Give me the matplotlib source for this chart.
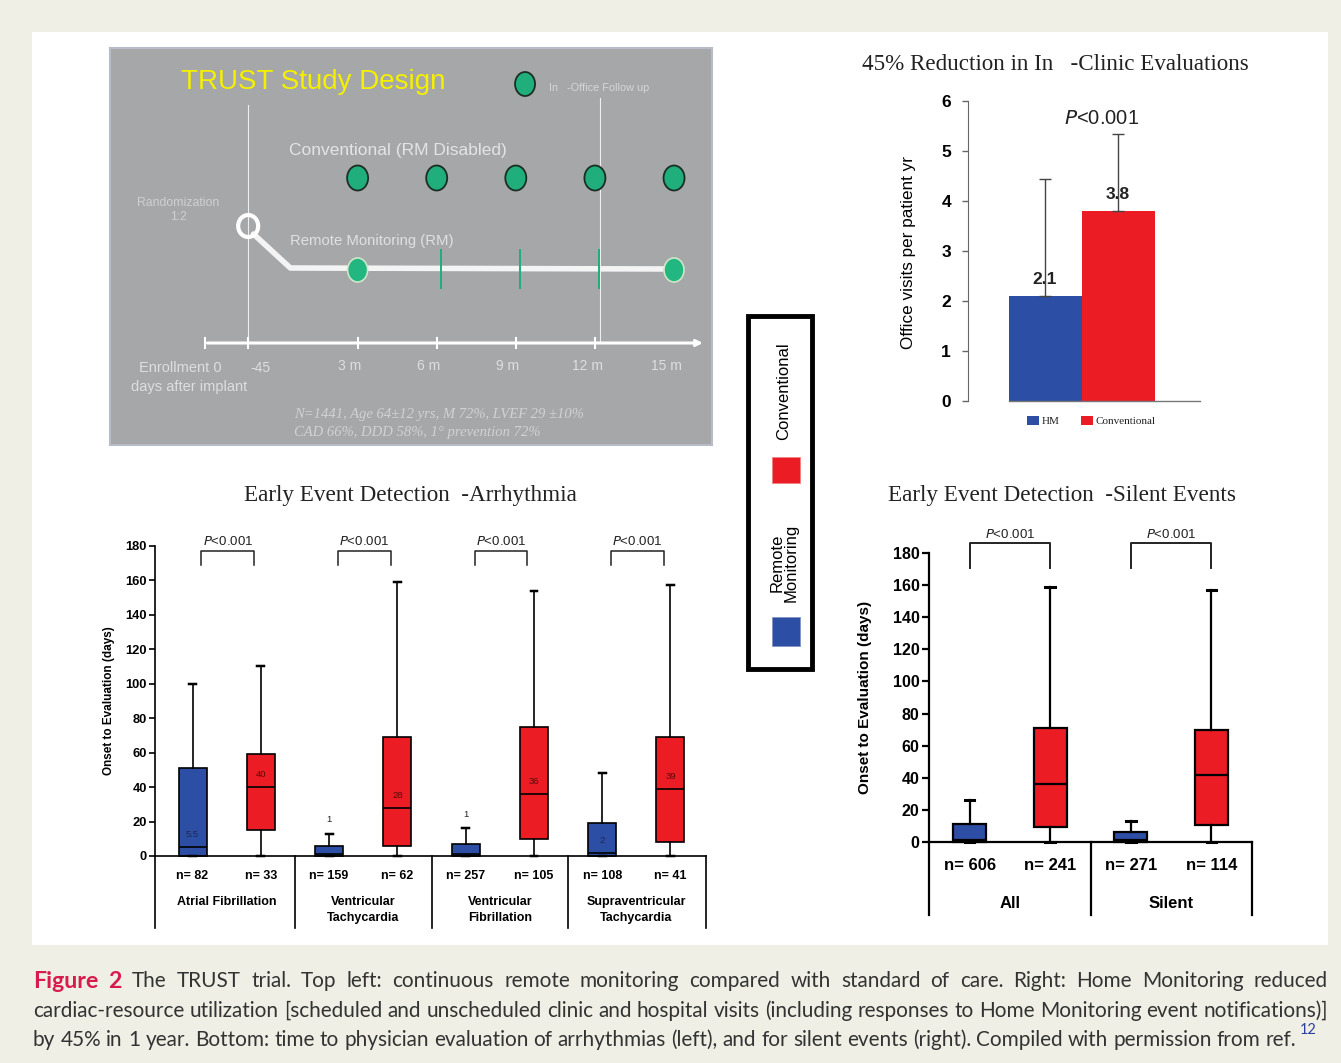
import matplotlib
matplotlib.use("Agg")
import matplotlib.pyplot as plt
import matplotlib.transforms as mtransforms
from matplotlib.patches import Rectangle, Ellipse

W, H = 1341, 1063
SANS = "Liberation Sans"
SERIF = "Liberation Serif"
BLUE = "#2c4ea5"
RED = "#ec1c24"

# ---------------- data ----------------
# study design schematic (months after implant)
visit_months = [3, 6, 9, 12, 15]
rm_office_months = [3, 15]
rm_remote_months = [6, 9, 12]
timeline_labels = ["Enrollment 0", "-45", "3 m", "6 m", "9 m", "12 m", "15 m"]
timeline_months = [-2.8, -1.15, 3, 6, 9, 12, 15]

# office visits per patient year
visit_groups = ["HM", "Conventional"]
visit_means = [2.1, 3.8]
visit_upper = [4.45, 5.35]

# arrhythmia onset-to-evaluation (days)
arr_groups = ["Atrial Fibrillation", "Ventricular\nTachycardia",
              "Ventricular\nFibrillation", "Supraventricular\nTachycardia"]
arr_rm_n = [82, 159, 257, 108]
arr_conv_n = [33, 62, 105, 41]
arr_rm_q1 = [0, 0, 0, 0]
arr_rm_med = [5.5, 1, 1, 2]
arr_rm_q3 = [51, 6, 7, 19]
arr_rm_hi = [100, 13, 16, 48]
arr_conv_q1 = [15, 6, 10, 8]
arr_conv_med = [40, 28, 36, 39]
arr_conv_q3 = [59, 69, 75, 69]
arr_conv_hi = [110, 159, 154, 157]

# silent events onset-to-evaluation (days)
sil_groups = ["All", "Silent"]
sil_rm_n = [606, 271]
sil_conv_n = [241, 114]
sil_rm_q1 = [0, 0]
sil_rm_med = [1, 1]
sil_rm_q3 = [11, 6]
sil_rm_hi = [26, 13]
sil_conv_q1 = [9, 10.5]
sil_conv_med = [36, 41.5]
sil_conv_q3 = [71, 70]
sil_conv_hi = [159, 157]

caption_lines = [
    "The TRUST trial. Top left: continuous remote monitoring compared with standard of care. Right: Home Monitoring reduced",
    "cardiac-resource utilization [scheduled and unscheduled clinic and hospital visits (including responses to Home Monitoring event notifications)]",
    "by 45% in 1 year. Bottom: time to physician evaluation of arrhythmias (left), and for silent events (right). Compiled with permission from ref.",
]


def px_axes(x0, y0, x1, y1, **kw):
    return fig.add_axes([x0 / W, 1 - y1 / H, (x1 - x0) / W, (y1 - y0) / H], **kw)


def fy(ypx):
    return 1 - ypx / H


def stats(q1, med, q3, hi):
    return [dict(med=m, q1=a, q3=b, whislo=0, whishi=h, fliers=[])
            for a, m, b, h in zip(q1, med, q3, hi)]


fig = plt.figure(figsize=(W / 100, H / 100), dpi=100)
fig.patch.set_facecolor("#efefe5")
fig.add_artist(Rectangle((32 / W, fy(945)), (1328 - 32) / W, (945 - 32) / H,
                         transform=fig.transFigure, facecolor="white",
                         edgecolor="none", zorder=0))

# ---------------- panel 1: study design ----------------
ax1 = px_axes(110, 48, 712, 445)
ax1.set_facecolor("#a5a7a9")
ax1.set_xlim(-6.39, 16.44)
ax1.set_ylim(445, 48)
ax1.set_xticks([])
ax1.set_yticks([])
for s in ax1.spines.values():
    s.set_color("#b8bcc6")
    s.set_linewidth(1.5)

mx = 26.37  # px per month, for ellipse sizes
ax1.text(-3.7, 82, "TRUST Study Design", color="#f4f000", fontsize=20,
         family=SANS, va="center")
ax1.add_patch(Ellipse((9.35, 84), 20 / mx, 24, facecolor="#1fae7c",
                      edgecolor="#1b2e24", lw=1.3))
ax1.text(10.25, 88, "In   -Office Follow up", color="#d6d6d6", fontsize=7.8,
         family=SANS, va="center")

rand_m = timeline_months[1]
ax1.plot([rand_m, rand_m], [105, 343], color="#eeeeee", lw=0.8)
ax1.plot([12.2, 12.2], [98, 343], color="#eeeeee", lw=0.8)

ax1.text(0.4, 150, "Conventional (RM Disabled)", color="#e4e4e4",
         fontsize=12.5, family=SANS, va="center")
for m in visit_months:
    ax1.add_patch(Ellipse((m, 178), 21 / mx, 25, facecolor="#1fae7c",
                          edgecolor="#1b2e24", lw=1.3, zorder=3))

ax1.text(-3.8, 210, "Randomization\n1:2", color="#d0d0d0", fontsize=8.8,
         family=SANS, va="center", ha="center", linespacing=1.2)
ax1.add_patch(Ellipse((rand_m, 226), 20 / mx, 22, facecolor="none",
                      edgecolor="white", lw=3, zorder=4))
ax1.plot([rand_m + 0.2, 0.45, visit_months[-1]], [234, 268, 269],
         color="#f4f4f4", lw=4, solid_capstyle="round", zorder=2)
ax1.text(0.45, 241, "Remote Monitoring (RM)", color="#e0e0e0", fontsize=10.7,
         family=SANS, va="center")
for m in rm_office_months:
    ax1.add_patch(Ellipse((m, 270), 20 / mx, 24, facecolor="#22b681",
                          edgecolor="#cfe6c8", lw=1.2, zorder=3))
for m in rm_remote_months:
    ax1.plot([m + 0.15, m + 0.15], [250, 288], color="#1fae7c", lw=1.4, zorder=3)

# timeline axis
ax1.annotate("", xy=(16.2, 343), xytext=(timeline_months[0], 343),
             arrowprops=dict(arrowstyle="-|>", color="white", lw=2.2,
                             mutation_scale=9))
for m in timeline_months[:-1]:
    ax1.plot([m, m], [338, 348], color="white", lw=1.5)
for lab, m in zip(timeline_labels, timeline_months):
    if lab.startswith("Enrollment"):
        ax1.text(m + 0.65, 368, lab, color="#dedede", fontsize=10.5,
                 family=SANS, ha="right", va="center")
    elif lab == "-45":
        ax1.text(m + 0.45, 368, lab, color="#dedede", fontsize=10,
                 family=SANS, ha="center", va="center")
    else:
        ax1.text(m - 0.3, 366, lab, color="#dedede", fontsize=10,
                 family=SANS, ha="center", va="center")
ax1.text(-5.6, 387, "days after implant", color="#dedede", fontsize=10.5,
         family=SANS, ha="left", va="center")
ax1.text(0.6, 414, "N=1441, Age 64\u00b112 yrs, M 72%, LVEF 29 \u00b110%",
         color="#d2d2d2", fontsize=10.5, family=SERIF, style="italic", va="center")
ax1.text(0.6, 432, "CAD 66%, DDD 58%, 1\u00b0 prevention 72%",
         color="#d2d2d2", fontsize=10.5, family=SERIF, style="italic", va="center")

# ---------------- panel 2: office visits ----------------
ax2 = px_axes(967.7, 101, 1210, 401)
ax2.set_facecolor("none")
ax2.set_xlim(-1.06, 2.26)
ax2.set_ylim(0, 6)
xpos = list(range(len(visit_groups)))
ax2.bar(xpos, visit_means, width=1.0, color=[BLUE, RED], zorder=2)
ax2.errorbar(xpos, visit_means,
             yerr=[[0] * len(visit_means),
                   [u - v for u, v in zip(visit_upper, visit_means)]],
             fmt="none", ecolor="#444444", elinewidth=1, capsize=4, zorder=3)
ax2.plot([-0.5, 2.12], [0, 0], color="#777777", lw=1, clip_on=False)
for x, v in zip(xpos, visit_means):
    ax2.text(x, v + 0.33, f"{v:.1f}", ha="center", va="center", fontsize=12.5,
             fontweight="bold", family=SANS, color="#222222", zorder=1)
ax2.text(0.78, 5.65, "$\\it{P}$<0.001", ha="center", va="center", fontsize=14.5,
         family=SANS, color="#222222")
for s in ["top", "right", "bottom"]:
    ax2.spines[s].set_visible(False)
ax2.spines["left"].set_color("#666666")
ax2.set_xticks([])
ax2.set_yticks(range(0, 7))
ax2.tick_params(axis="y", length=4, width=1, color="#666666", labelsize=12.5, pad=8)
for lbl in ax2.get_yticklabels():
    lbl.set_fontweight("bold")
    lbl.set_family(SANS)
ax2.set_ylabel("Office visits per patient yr", fontsize=12.3, family=SANS)
ax2.yaxis.set_label_coords(-0.213, 0.495)
fig.text(1055 / W, fy(65), "45% Reduction in In   -Clinic Evaluations",
         ha="center", va="center", fontsize=16.6, family=SERIF, color="#222222")
# legend
for (x0, col, lab) in [(1027, BLUE, visit_groups[0]), (1081, RED, visit_groups[1])]:
    fig.add_artist(Rectangle((x0 / W, fy(425)), 12 / W, 9 / H,
                             transform=fig.transFigure, facecolor=col,
                             edgecolor="none"))
    fig.text((x0 + 15) / W, fy(421), lab, fontsize=8, family=SERIF,
             va="center", color="#222222")

# ---------------- shared legend box ----------------
fig.add_artist(Rectangle((748 / W, fy(669)), 64 / W, 353 / H,
                         transform=fig.transFigure, facecolor="white",
                         edgecolor="black", lw=3.5))
fig.add_artist(Rectangle((772 / W, fy(483)), 28 / W, 26 / H,
                         transform=fig.transFigure, facecolor=RED,
                         edgecolor="#f08080", lw=0.5))
fig.add_artist(Rectangle((772 / W, fy(646)), 28 / W, 29 / H,
                         transform=fig.transFigure, facecolor=BLUE,
                         edgecolor="#8090c0", lw=0.5))
fig.text(784 / W, fy(391), "Conventional", rotation=90, ha="center",
         va="center", fontsize=12, family=SANS)
fig.text(784 / W, fy(563), "Remote\nMonitoring", rotation=90, ha="center",
         va="center", fontsize=12, family=SANS, linespacing=0.9)


def box_panel(ax, rm_stats, conv_stats, lw, capw):
    n = len(rm_stats)
    rm_pos = [2 * i + 1 for i in range(n)]
    conv_pos = [2 * i + 2 for i in range(n)]
    for st, pos, col in [(rm_stats, rm_pos, BLUE), (conv_stats, conv_pos, RED)]:
        b = ax.bxp(st, positions=pos, widths=0.41, patch_artist=True,
                   showfliers=False, capwidths=capw,
                   boxprops=dict(facecolor=col, edgecolor="black", linewidth=lw),
                   medianprops=dict(color="black", linewidth=lw),
                   whiskerprops=dict(color="black", linewidth=lw),
                   capprops=dict(color="black", linewidth=lw + 0.6),
                   manage_ticks=False)
        for w in b["whiskers"] + b["caps"] + b["boxes"] + b["medians"]:
            w.set_clip_on(False)
    ax.set_ylim(0, 180)
    ax.set_yticks(range(0, 181, 20))
    ax.set_xticks([])
    for s in ["top", "right"]:
        ax.spines[s].set_visible(False)
    for s in ["left", "bottom"]:
        ax.spines[s].set_linewidth(lw)
    ax.set_facecolor("none")
    return rm_pos, conv_pos


# ---------------- panel 3: arrhythmia ----------------
ax3 = px_axes(155, 545.7, 706, 856)
ax3.set_xlim(0.45, 8.52)
rm_pos, conv_pos = box_panel(ax3, stats(arr_rm_q1, arr_rm_med, arr_rm_q3, arr_rm_hi),
                             stats(arr_conv_q1, arr_conv_med, arr_conv_q3, arr_conv_hi),
                             1.2, 0.1)
ax3.tick_params(axis="y", length=4, width=1.2, labelsize=9.3, pad=2)
for lbl in ax3.get_yticklabels():
    lbl.set_fontweight("bold")
    lbl.set_family(SANS)
ax3.set_ylabel("Onset to Evaluation (days)", fontsize=8.5, fontweight="bold",
               family=SANS)
ax3.yaxis.set_label_coords(-0.073, 0.5)

for i in range(len(arr_groups)):
    # median labels
    m, q3, hi = arr_rm_med[i], arr_rm_q3[i], arr_rm_hi[i]
    y = m + 7 if m + 12 < q3 else hi + 8
    ax3.text(rm_pos[i], y, f"{m:g}", ha="center", va="center", fontsize=6.8,
             family=SANS, color="#1a2a50" if m + 12 < q3 else "#222222")
    ax3.text(conv_pos[i], arr_conv_med[i] + 7, f"{arr_conv_med[i]:g}",
             ha="center", va="center", fontsize=6.8, family=SANS, color="#5a0a0a")
    # p-value brackets
    xa, xb = rm_pos[i] + 0.13, conv_pos[i] - 0.1
    ax3.plot([xa, xa, xb, xb], [169, 177, 177, 169], color="#222222", lw=1.1,
             clip_on=False)
    ax3.text((xa + xb) / 2, 182.5, "$\\it{P}$<0.001", ha="center", va="center",
             fontsize=9.5, family=SANS, color="#222222")

blend3 = mtransforms.blended_transform_factory(ax3.transData, fig.transFigure)
for x in [0.45, 2.5, 4.5, 6.5, 8.52]:
    ax3.plot([x, x], [fy(856), fy(928)], color="black", lw=1.2,
             transform=blend3, clip_on=False)
for i, g in enumerate(arr_groups):
    ax3.text(rm_pos[i], fy(876), f"n= {arr_rm_n[i]}", transform=blend3,
             ha="center", va="center", fontsize=9, fontweight="bold", family=SANS)
    ax3.text(conv_pos[i], fy(876), f"n= {arr_conv_n[i]}", transform=blend3,
             ha="center", va="center", fontsize=9, fontweight="bold", family=SANS)
    ax3.text(rm_pos[i] + 0.5, fy(896), g, transform=blend3, ha="center",
             va="top", fontsize=9, fontweight="bold", family=SANS, linespacing=1.4)
fig.text(410 / W, fy(495), "Early Event Detection  -Arrhythmia", ha="center",
         va="center", fontsize=16.7, family=SERIF, color="#222222")

# ---------------- panel 4: silent events ----------------
ax4 = px_axes(929.3, 553.3, 1251.7, 841.7)
ax4.set_xlim(0.5, 4.5)
rm_pos, conv_pos = box_panel(ax4, stats(sil_rm_q1, sil_rm_med, sil_rm_q3, sil_rm_hi),
                             stats(sil_conv_q1, sil_conv_med, sil_conv_q3, sil_conv_hi),
                             1.6, 0.12)
ax4.tick_params(axis="y", length=5, width=1.6, labelsize=11.5, pad=2)
for lbl in ax4.get_yticklabels():
    lbl.set_fontweight("bold")
    lbl.set_family(SANS)
ax4.set_ylabel("Onset to Evaluation (days)", fontsize=11, fontweight="bold",
               family=SANS)
ax4.yaxis.set_label_coords(-0.178, 0.5)
for i in range(len(sil_groups)):
    xa, xb = rm_pos[i], conv_pos[i]
    ax4.plot([xa, xa, xb, xb], [171, 186.5, 186.5, 171], color="#222222",
             lw=1.4, clip_on=False)
    ax4.text((xa + xb) / 2, 192, "$\\it{P}$<0.001", ha="center", va="center",
             fontsize=9.5, family=SANS, color="#222222")

blend4 = mtransforms.blended_transform_factory(ax4.transData, fig.transFigure)
for x in [0.5, 2.5, 4.5]:
    ax4.plot([x, x], [fy(841.7), fy(915)], color="black", lw=1.6,
             transform=blend4, clip_on=False)
for i, g in enumerate(sil_groups):
    ax4.text(rm_pos[i], fy(866), f"n= {sil_rm_n[i]}", transform=blend4,
             ha="center", va="center", fontsize=12, fontweight="bold", family=SANS)
    ax4.text(conv_pos[i], fy(866), f"n= {sil_conv_n[i]}", transform=blend4,
             ha="center", va="center", fontsize=12, fontweight="bold", family=SANS)
    ax4.text(rm_pos[i] + 0.5, fy(903), g, transform=blend4, ha="center",
             va="center", fontsize=12, fontweight="bold", family=SANS)
fig.text(1062 / W, fy(495), "Early Event Detection  -Silent Events", ha="center",
         va="center", fontsize=16.7, family=SERIF, color="#222222")

# ---------------- caption ----------------
renderer = fig.canvas.get_renderer()
CAP_FONT = "Lato"
probe = fig.text(0, 0, caption_lines[1], fontsize=12, family=CAP_FONT)
cap_size = 12 * 1292 / probe.get_window_extent(renderer).width
probe.remove()


def place_line(words, ypx, x0, x1, justify):
    texts = []
    for w, kw in words:
        texts.append(fig.text(0, fy(ypx), w, va="center", ha="left", **kw))
    widths = [t.get_window_extent(renderer).width for t in texts]
    if justify:
        gap = (x1 - x0 - sum(widths)) / (len(texts) - 1)
    else:
        gap = cap_size * 100 / 72 * 0.25
    x = x0
    for t, w in zip(texts, widths):
        t.set_x(x / W)
        x += w + gap
    return x - gap


body = dict(fontsize=cap_size, family=CAP_FONT, color="#333333")
head = dict(fontsize=cap_size * 1.12, family=CAP_FONT, color="#d81b4f",
            fontweight="bold")
line1 = [("Figure", head), ("2", head)] + [(w, body) for w in caption_lines[0].split()]
place_line(line1, 981, 33, 1328, True)
place_line([(w, body) for w in caption_lines[1].split()], 1011, 33, 1328, True)
xend = place_line([(w, body) for w in caption_lines[2].split()], 1040, 33, 1328, False)
fig.text((xend + 3) / W, fy(1030), "12", fontsize=cap_size * 0.7,
         family=CAP_FONT, color="#2b3fa0", va="center")

fig.savefig("out.png", dpi=100)
